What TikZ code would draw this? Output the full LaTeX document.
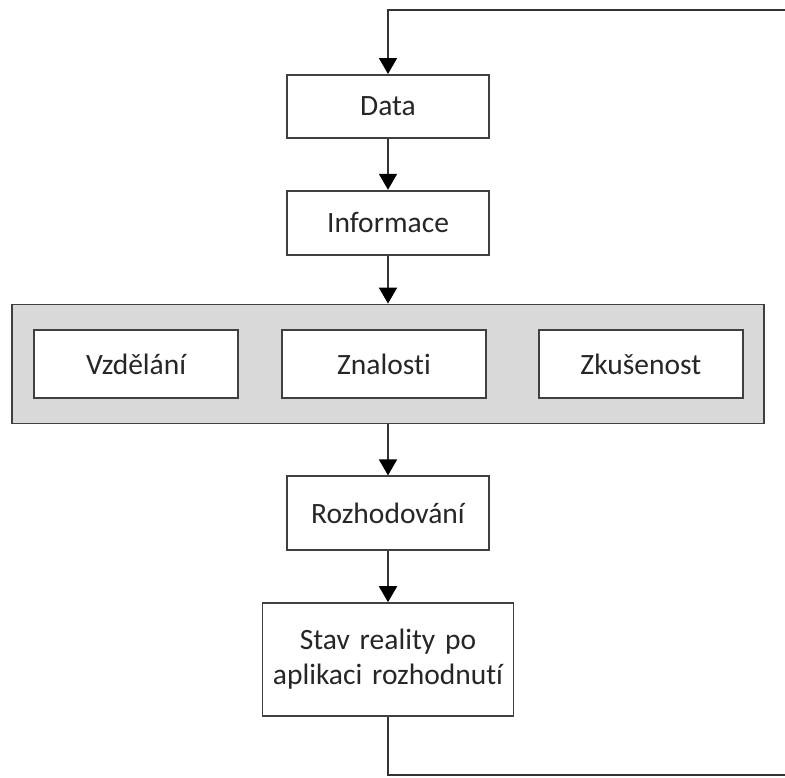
\documentclass[tikz,border=0pt]{standalone}
\usepackage{fontspec}
\setmainfont{Carlito}[Ligatures=NoCommon]
\usepackage{tikz}
\usetikzlibrary{positioning,arrows.meta}

\definecolor{GroupFill}{gray}{0.85}

\begin{document}
\begin{tikzpicture}[->,
                      >={Triangle[width=9pt,length=8pt,color=black]},
                      line width=0.9pt,draw=black!80,
                      node distance=25.5pt and 21pt,
                      basenode/.style={draw=black!75,fill=white,text=black!85,inner sep=0pt,font={\fontsize{14.75}{17.5}\selectfont}},
                      stepnode/.style={basenode,rectangle,minimum width=101pt,minimum height=31.5pt},
                      skill/.style={basenode,rectangle,minimum width=102pt,minimum height=34pt},
                      group/.style={draw=black!75,fill=GroupFill,minimum width=376pt,minimum height=59.5pt},
                      result/.style={basenode,rectangle,text width=118pt,text centered,minimum width=125.5pt,minimum height=56.5pt}]
    \node[stepnode] (data) {Data};
    \coordinate[above=32pt of data] (topbend);
    \coordinate (topright) at ([xshift=198.5pt]topbend);
    \node[stepnode,minimum height=32pt] (info) [below=of data] {Informace};
    \node[group] (skills) [below=24pt of info] {};
    \node[skill,xshift=-2pt] (znalosti) at (skills) {Znalosti};
    \node[skill] (vzdelani) [left=21pt of znalosti] {Vzdělání};
    \node[skill] (zkusenost) [right=25.5pt of znalosti] {Zkušenost};
    \node[stepnode,minimum height=37pt] (rozhodovani) [below=of skills] {Rozhodování};
    \node[result] (stav) [below=of rozhodovani] {Stav reality po\\aplikaci rozhodnutí};
    \coordinate[below=29pt of stav] (botbend);
    \coordinate (botright) at ([xshift=198.5pt]botbend);
    \useasboundingbox ([xshift=-194pt,yshift=5pt]topbend) rectangle ([yshift=-1pt]botright);
    \draw (topright) -- (topbend) -- (data);
    \draw (data) -- (info);
    \draw (info) -- (skills);
    \draw (skills) -- (rozhodovani);
    \draw (rozhodovani) -- (stav);
    \draw[-] (stav) -- (botbend) -- (botright);
  \end{tikzpicture}
\end{document}
